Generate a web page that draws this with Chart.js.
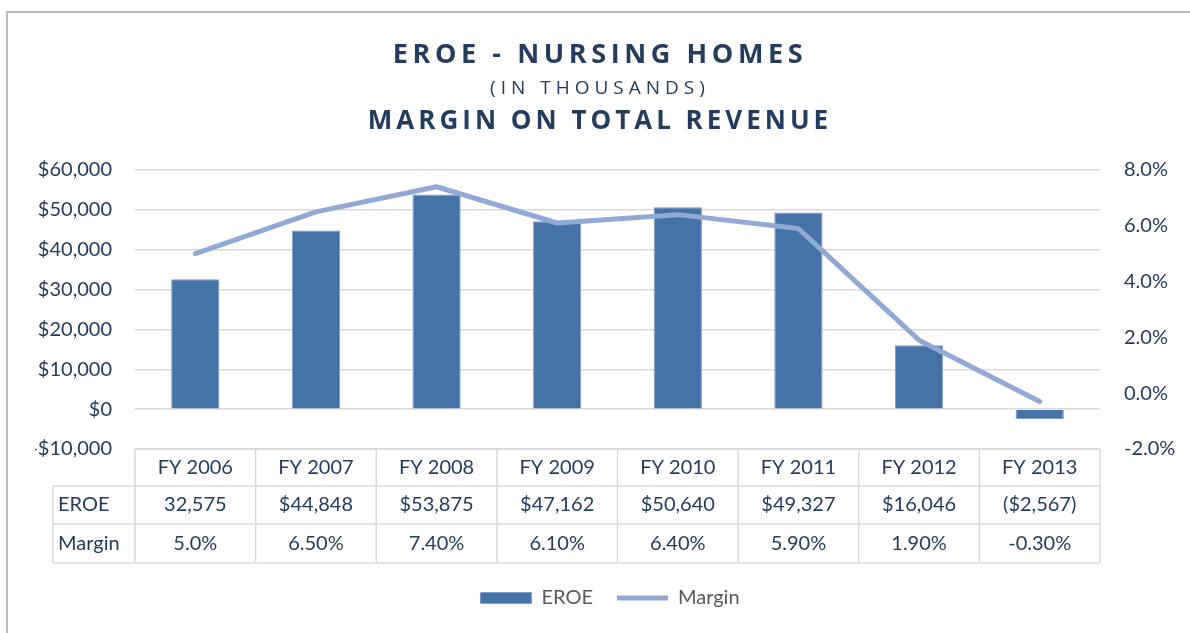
<!DOCTYPE html>
<html>
<head>
<meta charset="utf-8">
<script src="https://cdn.jsdelivr.net/npm/chart.js@4"></script>
<style>
  html, body { margin: 0; padding: 0; background: #fff; }
  #wrap { position: relative; width: 1190px; height: 633px; overflow: hidden; }
  #frame {
    position: absolute; left: 6px; top: 11px; width: 1300px; height: 700px;
    border-left: 2px solid #bdbdbd; border-top: 2px solid #bdbdbd;
  }
  #chart { position: absolute; left: 0; top: 0; }
  .t { position: absolute; left: 0; width: 1200px; text-align: center;
       font-family: 'Open Sans', sans-serif; color: #243d5f; white-space: nowrap; }
  #t1 { top: 34px; font-size: 27px; font-weight: 700; letter-spacing: 4.6px; }
  #t2 { top: 74px; font-size: 19px; font-weight: 400; letter-spacing: 5px; }
  #t3 { top: 101px; font-size: 26px; font-weight: 700; letter-spacing: 4px; }
</style>
</head>
<body>
<div id="wrap">
  <div id="frame"></div>
  <canvas id="chart" width="1190" height="633"></canvas>
  <div class="t" id="t1">EROE - NURSING HOMES</div>
  <div class="t" id="t2">(IN THOUSANDS)</div>
  <div class="t" id="t3">MARGIN ON TOTAL REVENUE</div>
</div>
<script>
// Годы и значения
const years = ['FY 2006', 'FY 2007', 'FY 2008', 'FY 2009', 'FY 2010', 'FY 2011', 'FY 2012', 'FY 2013'];
const eroe = [32575, 44848, 53875, 47162, 50640, 49327, 16046, -2567];
const margin = [5.0, 6.5, 7.4, 6.1, 6.4, 5.9, 1.9, -0.3];

// Подписи в таблице под графиком (как в исходной таблице)
const eroeLabels = ['32,575', '$44,848', '$53,875', '$47,162', '$50,640', '$49,327', '$16,046', '($2,567)'];
const marginLabels = ['5.0%', '6.50%', '7.40%', '6.10%', '6.40%', '5.90%', '1.90%', '-0.30%'];

const textColor = '#243d5f';
const gridColor = '#d9d9d9';
const labelFont = { family: 'Lato', size: 20 };

// Рисуем таблицу данных под осью X
const dataTable = {
    id: 'dataTable',
    afterDraw(chart) {
        const ctx = chart.ctx;
        const x = chart.scales.x;
        const area = chart.chartArea;
        const step = area.width / years.length;
        const rows = [area.bottom, area.bottom + 37, area.bottom + 75, area.bottom + 114];
        const leftEdge = 53;

        ctx.save();
        ctx.strokeStyle = gridColor;
        ctx.lineWidth = 1.5;
        ctx.beginPath();
        // горизонтальные линии
        ctx.moveTo(area.left, rows[0]); ctx.lineTo(area.right, rows[0]);
        for (let r = 1; r < rows.length; r++) {
            ctx.moveTo(leftEdge, rows[r]); ctx.lineTo(area.right, rows[r]);
        }
        // вертикальные линии
        ctx.moveTo(leftEdge, rows[1]); ctx.lineTo(leftEdge, rows[3]);
        for (let i = 0; i <= years.length; i++) {
            const xx = area.left + i * step;
            ctx.moveTo(xx, rows[0]); ctx.lineTo(xx, rows[3]);
        }
        ctx.stroke();

        ctx.fillStyle = textColor;
        ctx.font = '20px Lato';
        ctx.textBaseline = 'middle';
        ctx.textAlign = 'left';
        ctx.fillText('EROE', leftEdge + 5, (rows[1] + rows[2]) / 2);
        ctx.fillText('Margin', leftEdge + 5, (rows[2] + rows[3]) / 2);
        ctx.textAlign = 'center';
        years.forEach((y, i) => {
            const cx = x.getPixelForValue(i);
            ctx.fillText(y, cx, (rows[0] + rows[1]) / 2);
            ctx.fillText(eroeLabels[i], cx, (rows[1] + rows[2]) / 2);
            ctx.fillText(marginLabels[i], cx, (rows[2] + rows[3]) / 2);
        });
        ctx.restore();
    }
};

new Chart(document.getElementById('chart'), {
    data: {
        labels: years,
        datasets: [
            {
                type: 'bar',
                label: 'EROE',
                data: eroe,
                backgroundColor: '#4673a7',
                borderColor: '#7d9cc9',
                borderWidth: 1,
                barPercentage: 0.4,
                categoryPercentage: 1,
                pointStyle: 'rect',
                yAxisID: 'y',
                order: 1
            },
            {
                type: 'line',
                label: 'Margin',
                data: margin,
                borderColor: '#91a9d5',
                backgroundColor: '#91a9d5',
                borderWidth: 5,
                borderCapStyle: 'round',
                borderJoinStyle: 'round',
                pointRadius: 0,
                pointStyle: 'line',
                tension: 0,
                yAxisID: 'y1',
                order: 0
            }
        ]
    },
    plugins: [dataTable],
    options: {
        responsive: false,
        animation: false,
        layout: { padding: { top: 170, left: 35, right: 5, bottom: 15 } },
        plugins: {
            title: { display: false },
            tooltip: { enabled: false },
            legend: {
                position: 'bottom',
                labels: {
                    usePointStyle: true,
                    pointStyleWidth: 51,
                    boxHeight: 11,
                    padding: 24,
                    color: '#595959',
                    font: labelFont,
                    sort: (a, b) => a.datasetIndex - b.datasetIndex
                }
            }
        },
        scales: {
            x: {
                grid: { display: false },
                border: { display: false },
                ticks: { display: false },
                afterFit(scale) { scale.height = 115; }
            },
            y: {
                position: 'left',
                min: -10000,
                max: 60000,
                grid: { color: gridColor, lineWidth: 1.5, drawTicks: false },
                border: { display: false },
                ticks: {
                    stepSize: 10000,
                    padding: 23,
                    color: textColor,
                    font: labelFont,
                    callback: v => (v < 0 ? '-$' : '$') + Math.abs(v).toLocaleString('en-US')
                },
                afterFit(scale) { scale.width = 100; }
            },
            y1: {
                position: 'right',
                min: -2,
                max: 8,
                grid: { display: false, drawTicks: false },
                border: { display: false },
                ticks: {
                    stepSize: 2,
                    padding: 24,
                    color: textColor,
                    font: labelFont,
                    callback: v => v.toFixed(1) + '%'
                },
                afterFit(scale) { scale.width = 85; }
            }
        }
    }
});
</script>
</body>
</html>
